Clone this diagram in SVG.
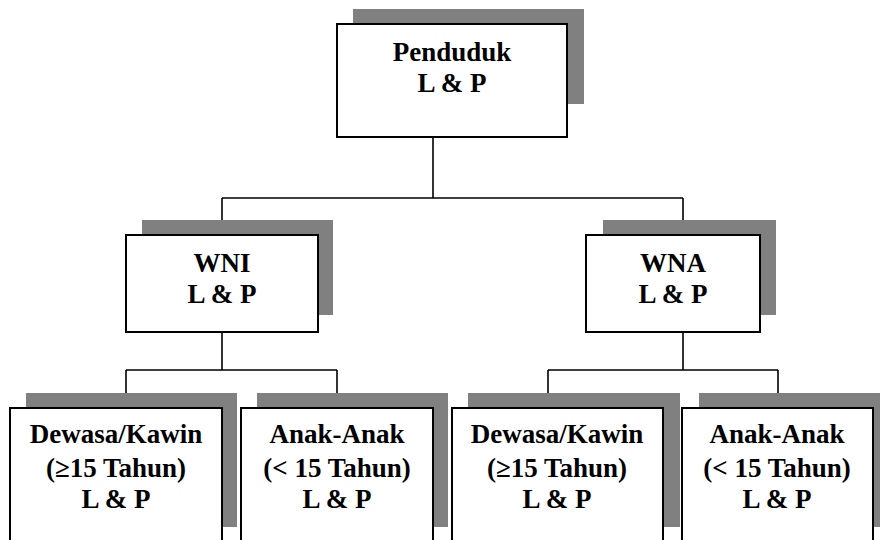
<svg xmlns="http://www.w3.org/2000/svg" width="880" height="540" viewBox="0 0 880 540">
<style>
.shadow{fill:#808080;stroke:none}
.box{fill:#ffffff;stroke:#000000;stroke-width:2}
.lbl{font-family:"Liberation Serif","Times New Roman",serif;font-weight:bold;font-size:27px;fill:#000000;text-anchor:middle}
.conn{fill:none;stroke:#000000;stroke-width:1.6}
</style>
<rect width="880" height="540" fill="#ffffff"/>
<g id="connectors">
<path class="conn" d="M433,137 V198 M222,198 H683 M222,198 V235 M683,198 V235"/>
<path class="conn" d="M222,332 V370 M126,370 H337 M126,370 V408 M337,370 V408"/>
<path class="conn" d="M683,332 V370 M548,370 H778 M548,370 V408 M778,370 V408"/>
</g>
<g id="penduduk">
<rect class="shadow" x="353" y="9" width="231" height="95"/>
<rect class="box" x="337" y="24" width="230" height="113"/>
<text class="lbl" x="452" y="61">Penduduk</text>
<text class="lbl" x="452" y="92">L &amp; P</text>
</g>
<g id="wni">
<rect class="shadow" x="142" y="220" width="191" height="95"/>
<rect class="box" x="126" y="235" width="192" height="97"/>
<text class="lbl" x="222" y="272">WNI</text>
<text class="lbl" x="222" y="303">L &amp; P</text>
</g>
<g id="wna">
<rect class="shadow" x="603" y="220" width="173" height="95"/>
<rect class="box" x="586" y="235" width="174" height="97"/>
<text class="lbl" x="673" y="272">WNA</text>
<text class="lbl" x="673" y="303">L &amp; P</text>
</g>
<g id="wni-dewasa">
<rect class="shadow" x="26" y="393" width="211" height="134"/>
<rect class="box" x="10" y="408" width="212" height="145"/>
<text class="lbl" x="116" y="443">Dewasa/Kawin</text>
<text class="lbl" x="116" y="477">(≥15 Tahun)</text>
<text class="lbl" x="116" y="508">L &amp; P</text>
</g>
<g id="wni-anak">
<rect class="shadow" x="257" y="393" width="191" height="134"/>
<rect class="box" x="241" y="408" width="192" height="145"/>
<text class="lbl" x="337" y="443">Anak-Anak</text>
<text class="lbl" x="337" y="477">(&lt; 15 Tahun)</text>
<text class="lbl" x="337" y="508">L &amp; P</text>
</g>
<g id="wna-dewasa">
<rect class="shadow" x="468" y="393" width="212" height="134"/>
<rect class="box" x="452" y="408" width="211" height="145"/>
<text class="lbl" x="557" y="443">Dewasa/Kawin</text>
<text class="lbl" x="557" y="477">(≥15 Tahun)</text>
<text class="lbl" x="557" y="508">L &amp; P</text>
</g>
<g id="wna-anak">
<rect class="shadow" x="699" y="393" width="191" height="134"/>
<rect class="box" x="682" y="408" width="191" height="145"/>
<text class="lbl" x="777" y="443">Anak-Anak</text>
<text class="lbl" x="777" y="477">(&lt; 15 Tahun)</text>
<text class="lbl" x="777" y="508">L &amp; P</text>
</g>
</svg>
